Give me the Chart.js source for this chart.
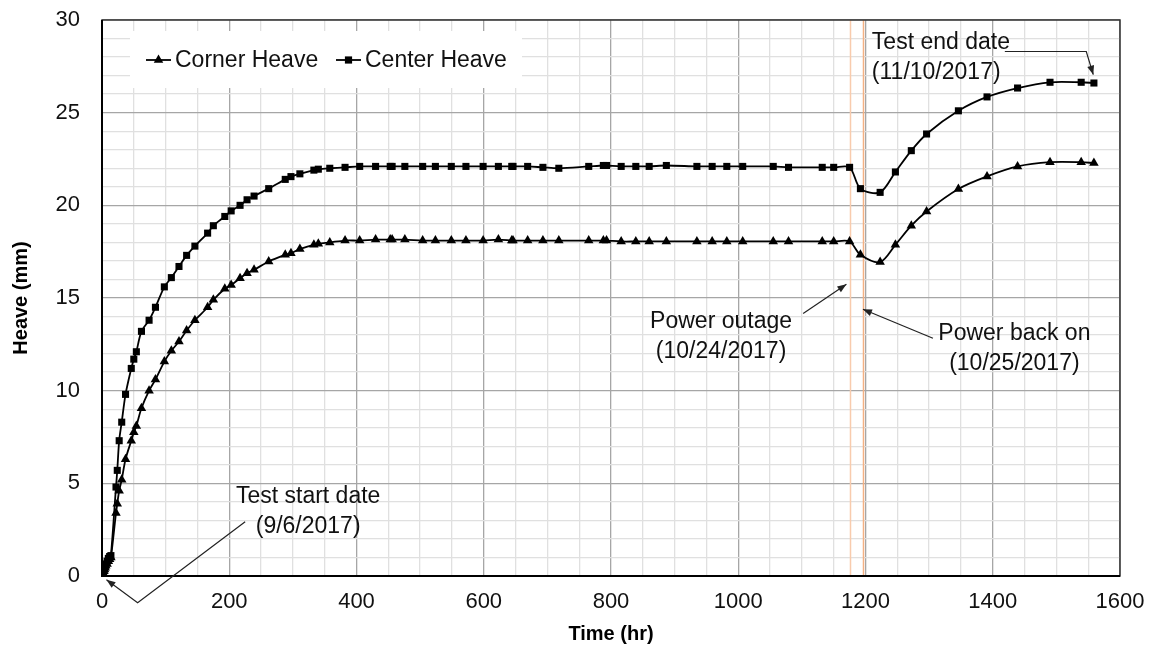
<!DOCTYPE html>
<html>
<head>
<meta charset="utf-8">
<script src="https://cdn.jsdelivr.net/npm/chart.js@4"></script>
<style>
  html, body { margin: 0; padding: 0; background: #fff; }
  #wrap { width: 1149px; height: 647px; position: relative; }
</style>
</head>
<body>
<div id="wrap"><canvas id="heaveChart"></canvas></div>
<script>
// time of each reading (hr)
const timeHr = [0,1,2,3,4,5,6,8,10,12,14,22,24,27,31,37,46,50,54,62,74,84,98,109,121,133,146,166,175,193,203,217,
  228,239,262,288,297,311,333,340,358,382,405,430,453,456,476,504,524,549,572,599,623,644,646,669,693,718,765,788,793,816,
  839,860,887,935,959,982,1007,1055,1079,1132,1150,1175,1192,1223,1247,1272,1296,1346,1391,1439,1490,1539,1559];

// heave (mm)
const centerHeave = [0,0.1,0.2,0.35,0.45,0.55,0.65,0.8,0.95,1.05,1.1,
  4.8,5.7,7.3,8.3,9.8,11.2,11.7,12.1,13.2,13.8,14.5,
  15.6,16.1,16.7,17.3,17.8,18.5,18.9,19.4,19.7,20.0,
  20.3,20.5,20.9,21.4,21.55,21.7,21.9,21.95,22.0,22.05,
  22.1,22.1,22.1,22.1,22.1,22.1,22.1,22.1,22.1,22.1,
  22.1,22.1,22.1,22.1,22.05,22.0,22.1,22.15,22.15,22.1,
  22.1,22.1,22.15,22.1,22.1,22.1,22.1,22.1,22.05,22.05,
  22.05,22.05,20.9,20.7,21.8,22.95,23.85,25.1,25.85,26.33,
  26.64,26.64,26.6];

const cornerHeave = [0,0.05,0.15,0.25,0.35,0.45,0.55,0.65,0.8,0.9,1.0,
  3.4,3.9,4.6,5.2,6.3,7.3,7.75,8.1,9.05,10.0,10.6,
  11.57,12.15,12.65,13.25,13.8,14.5,14.9,15.5,15.7,16.07,
  16.34,16.52,16.97,17.33,17.42,17.64,17.87,17.93,18.0,18.1,
  18.1,18.15,18.15,18.15,18.15,18.1,18.1,18.1,18.1,18.1,
  18.15,18.1,18.1,18.1,18.1,18.1,18.1,18.1,18.1,18.05,
  18.05,18.05,18.05,18.05,18.05,18.05,18.05,18.05,18.05,18.05,
  18.05,18.05,17.33,16.94,17.87,18.9,19.67,20.88,21.56,22.1,
  22.33,22.33,22.28];

const seriesNames = ['Corner Heave', 'Center Heave'];

// power outage / power back on (hr)
const eventLines = [1175, 1196];
const eventColors = ['#f8cbad', '#f4b183'];

// notes: text lines, anchor (hr, mm), arrow path (hr, mm)
const notes = [
  { lines: ['Test start date', '(9/6/2017)'], at: [324, 4.3], align: 'center',
    arrow: [[225, 2.93], [56, -1.44], [7, -0.2]] },
  { lines: ['Test end date', '(11/10/2017)'], at: [1210, 28.8], align: 'left',
    arrow: [[1419, 28.3], [1547, 28.3], [1558, 27.05]] },
  { lines: ['Power outage', '(10/24/2017)'], at: [973, 13.75], align: 'center',
    arrow: [[1102, 14.17], [1170, 15.74]] },
  { lines: ['Power back on', '(10/25/2017)'], at: [1434, 13.1], align: 'center',
    arrow: [[1306, 12.83], [1196, 14.39]] }
];

const FONT = "'Liberation Sans', Arial, sans-serif";

function pts(ys) {
  return timeHr.map((t, i) => ({ x: t, y: ys[i] }));
}

const eventPlugin = {
  id: 'eventLines',
  beforeDatasetsDraw(chart) {
    const { ctx, chartArea: a, scales: { x } } = chart;
    ctx.save();
    eventLines.forEach((t, i) => {
      const px = Math.round(x.getPixelForValue(t)) + 0.5;
      ctx.strokeStyle = eventColors[i];
      ctx.lineWidth = 1.5;
      ctx.beginPath();
      ctx.moveTo(px, a.top);
      ctx.lineTo(px, a.bottom);
      ctx.stroke();
    });
    ctx.restore();
  }
};

function marker(ctx, style, x, y) {
  ctx.beginPath();
  if (style === 'triangle') {
    const r = 5.5;
    ctx.moveTo(x, y - r);
    ctx.lineTo(x + r * 0.866, y + r * 0.5);
    ctx.lineTo(x - r * 0.866, y + r * 0.5);
    ctx.closePath();
  } else {
    ctx.rect(x - 3.6, y - 3.6, 7.2, 7.2);
  }
  ctx.fill();
}

const legendPlugin = {
  id: 'boxLegend',
  beforeDatasetsDraw(chart) {
    const { ctx, chartArea: a } = chart;
    ctx.save();
    ctx.fillStyle = '#fff';
    ctx.fillRect(a.left + 28, a.top + 11, 392, 57);
    const items = [
      { x: a.left + 44, style: 'triangle', text: seriesNames[0] },
      { x: a.left + 234, style: 'rect', text: seriesNames[1] }
    ];
    const cy = a.top + 40;
    ctx.font = '23px ' + FONT;
    ctx.textBaseline = 'middle';
    ctx.textAlign = 'left';
    items.forEach(it => {
      ctx.strokeStyle = '#000';
      ctx.fillStyle = '#000';
      ctx.lineWidth = 1.8;
      ctx.beginPath();
      ctx.moveTo(it.x, cy);
      ctx.lineTo(it.x + 25, cy);
      ctx.stroke();
      marker(ctx, it.style, it.x + 12.5, cy);
      ctx.fillStyle = '#111';
      ctx.fillText(it.text, it.x + 29, cy + 1);
    });
    ctx.restore();
  }
};

const framePlugin = {
  id: 'frame',
  afterDatasetsDraw(chart) {
    const { ctx, chartArea: a, scales: { x, y } } = chart;
    ctx.save();
    ctx.strokeStyle = '#333';
    ctx.lineWidth = 1.5;
    ctx.strokeRect(a.left, a.top, a.right - a.left, a.bottom - a.top);
    ctx.strokeStyle = '#000';
    ctx.lineWidth = 2;
    ctx.beginPath();
    ctx.moveTo(a.left, a.top);
    ctx.lineTo(a.left, a.bottom);
    ctx.lineTo(a.right, a.bottom);
    ctx.stroke();

    // notes and arrows
    ctx.font = '23px ' + FONT;
    ctx.fillStyle = '#111';
    ctx.textBaseline = 'middle';
    notes.forEach(n => {
      ctx.textAlign = n.align;
      const tx = x.getPixelForValue(n.at[0]);
      const ty = y.getPixelForValue(n.at[1]);
      n.lines.forEach((s, i) => ctx.fillText(s, tx, ty + i * 30));
      const p = n.arrow.map(q => [x.getPixelForValue(q[0]), y.getPixelForValue(q[1])]);
      ctx.strokeStyle = '#222';
      ctx.lineWidth = 1.2;
      ctx.beginPath();
      ctx.moveTo(p[0][0], p[0][1]);
      for (let i = 1; i < p.length; i++) ctx.lineTo(p[i][0], p[i][1]);
      ctx.stroke();
      const [x1, y1] = p[p.length - 2];
      const [x2, y2] = p[p.length - 1];
      const ang = Math.atan2(y2 - y1, x2 - x1);
      ctx.fillStyle = '#222';
      ctx.beginPath();
      ctx.moveTo(x2, y2);
      ctx.lineTo(x2 - 9 * Math.cos(ang) + 3.5 * Math.sin(ang), y2 - 9 * Math.sin(ang) - 3.5 * Math.cos(ang));
      ctx.lineTo(x2 - 9 * Math.cos(ang) - 3.5 * Math.sin(ang), y2 - 9 * Math.sin(ang) + 3.5 * Math.cos(ang));
      ctx.closePath();
      ctx.fill();
      ctx.fillStyle = '#111';
    });
    ctx.restore();
  }
};

const ctx = document.getElementById('heaveChart').getContext('2d');
window.heaveChart = new Chart(ctx, {
  type: 'line',
  data: {
    datasets: [{
      label: seriesNames[0],
      data: pts(cornerHeave),
      borderColor: '#000',
      backgroundColor: '#000',
      borderWidth: 1.8,
      pointStyle: 'triangle',
      pointRadius: 5.5,
      pointBorderWidth: 0,
      tension: 0.3,
      fill: false
    }, {
      label: seriesNames[1],
      data: pts(centerHeave),
      borderColor: '#000',
      backgroundColor: '#000',
      borderWidth: 1.8,
      pointStyle: 'rect',
      pointRadius: 5,
      pointBorderWidth: 0,
      tension: 0.3,
      fill: false
    }]
  },
  options: {
    responsive: true,
    maintainAspectRatio: false,
    animation: false,
    devicePixelRatio: 1,
    layout: { padding: { top: 20, right: 29, left: 0, bottom: 0 } },
    plugins: {
      legend: { display: false },
      tooltip: { enabled: false }
    },
    scales: {
      x: {
        type: 'linear',
        min: 0,
        max: 1600,
        afterFit(s) { s.height = 71; s.paddingLeft = 0; s.paddingRight = 0; },
        border: { display: false },
        grid: {
          drawTicks: false,
          color: c => (c.tick.value % 200 === 0 ? '#a6a6a6' : '#e0e0e0'),
          lineWidth: 1.3
        },
        ticks: {
          stepSize: 50,
          autoSkip: false,
          maxRotation: 0,
          padding: 13,
          color: '#111',
          font: { family: FONT, size: 22 },
          callback: v => (v % 200 === 0 ? String(v) : '')
        },
        title: {
          display: true,
          text: 'Time (hr)',
          color: '#000',
          font: { family: FONT, size: 20, weight: 'bold' },
          padding: { top: 0, bottom: 1 }
        }
      },
      y: {
        type: 'linear',
        min: 0,
        max: 30,
        afterFit(s) { s.width = 102; s.paddingTop = 0; s.paddingBottom = 0; },
        border: { display: false },
        grid: {
          drawTicks: false,
          color: c => (c.tick.value % 5 === 0 ? '#a6a6a6' : '#e0e0e0'),
          lineWidth: 1.3
        },
        ticks: {
          stepSize: 1,
          autoSkip: false,
          padding: 22,
          color: '#111',
          font: { family: FONT, size: 22 },
          callback: v => (v % 5 === 0 ? String(v) : '')
        },
        title: {
          display: true,
          text: 'Heave (mm)',
          color: '#000',
          font: { family: FONT, size: 20, weight: 'bold' },
          padding: { top: 9, bottom: 0 }
        }
      }
    }
  },
  plugins: [eventPlugin, legendPlugin, framePlugin]
});
</script>
</body>
</html>
